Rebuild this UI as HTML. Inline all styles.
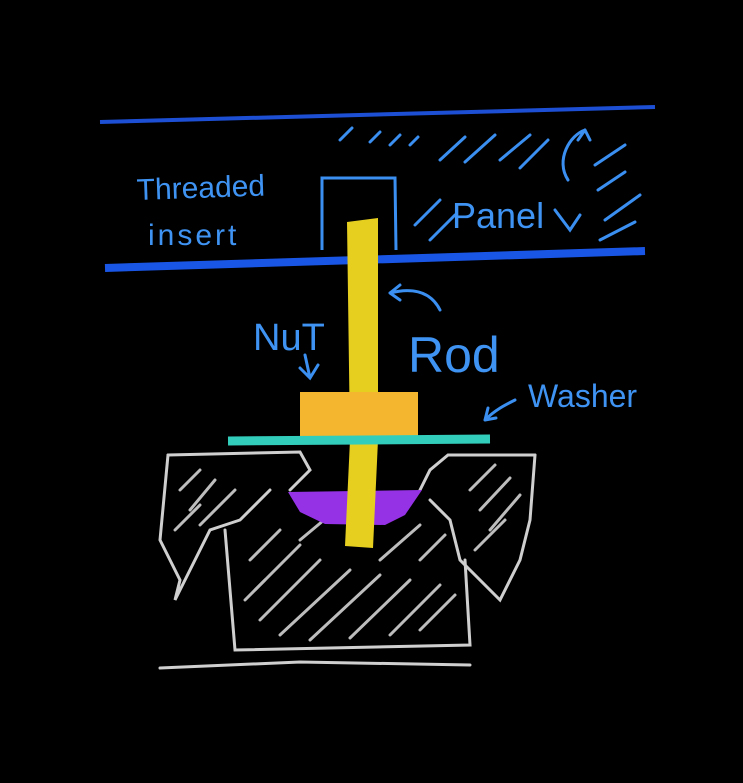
<!DOCTYPE html>
<html><head><meta charset="utf-8"><style>
html,body{margin:0;padding:0;background:#000;}
svg{display:block}
text{font-family:"Liberation Sans",sans-serif;fill:#3f93f2;}
</style></head><body>
<svg width="743" height="783" viewBox="0 0 743 783">
<rect width="743" height="783" fill="#000"/>
<!-- panel lines -->
<path d="M100 122 L655 107" stroke="#1d4fd4" stroke-width="4" fill="none"/>
<path d="M105 268 L645 251" stroke="#1a56e6" stroke-width="8" fill="none"/>
<!-- hatching -->
<g stroke="#3a8ff0" stroke-width="3" fill="none" stroke-linecap="round">
<path d="M340 140 L352 128"/><path d="M370 142 L380 132"/><path d="M390 145 L400 135"/><path d="M410 145 L418 137"/>
<path d="M440 160 L465 137"/><path d="M465 162 L495 135"/><path d="M500 160 L530 135"/><path d="M520 168 L548 140"/>
<path d="M595 165 L625 145"/><path d="M598 190 L625 172"/><path d="M605 220 L640 195"/><path d="M600 240 L635 222"/>
<path d="M415 225 L440 200"/><path d="M430 240 L455 215"/>
<path d="M568 180 C555 160 570 135 585 130 M585 130 L578 140 M585 130 L590 140"/>
<path d="M555 210 L570 230 L580 215"/>
</g>
<!-- insert -->
<path d="M322 250 L322 178 L395 178 L396 250" stroke="#3a8ff0" stroke-width="3" fill="none"/>
<text x="137" y="200" font-size="30" transform="rotate(-2 137 200)">Threaded</text>
<text x="148" y="245" font-size="30" letter-spacing="3">insert</text>
<text x="452" y="228" font-size="36">Panel</text>
<!-- gray base sketch -->
<g stroke="#cfcfcf" stroke-width="3" fill="none" stroke-linecap="round">
<path d="M168 455 L300 452 L310 470 L290 490 M420 490 L430 470 L448 455 L535 455"/>
<path d="M168 455 L160 540 L180 580 L175 600 L210 530 L240 520 L270 490"/>
<path d="M535 455 L530 520 L520 560 L500 600 L460 560 L450 520 L430 500"/>
<path d="M225 530 L235 650 L470 645 L465 560"/>
<path d="M160 668 L300 662 L470 665"/>
</g>
<g stroke="#bdbdbd" stroke-width="3" stroke-linecap="round">
<path d="M180 490 L200 470"/><path d="M190 510 L215 480"/><path d="M200 525 L235 490"/><path d="M175 530 L200 505"/>
<path d="M470 490 L495 465"/><path d="M480 510 L510 478"/><path d="M490 530 L520 495"/><path d="M475 550 L505 520"/>
<path d="M250 560 L280 530"/><path d="M255 590 L300 545"/><path d="M260 620 L320 560"/><path d="M280 635 L350 570"/>
<path d="M310 640 L380 575"/><path d="M350 638 L410 580"/><path d="M390 635 L440 585"/><path d="M420 630 L455 595"/>
<path d="M300 540 L330 515"/><path d="M380 560 L420 525"/><path d="M420 560 L445 535"/><path d="M245 600 L265 580"/>
</g>
<!-- purple -->
<path d="M288 492 L422 490 L405 515 L385 525 L325 524 L300 512 Z" fill="#9532e6"/>
<!-- rod -->
<path d="M347 222 L378 218 L378 440 L373 548 L345 546 L350 440 Z" fill="#e6cf1f"/>
<!-- nut -->
<rect x="300" y="392" width="118" height="48" fill="#f4b62e"/>
<!-- washer -->
<path d="M228 441 L490 439" stroke="#33cdbb" stroke-width="9"/>
<!-- labels & arrows -->
<text x="253" y="350" font-size="38">NuT</text>
<text x="408" y="372" font-size="50">Rod</text>
<text x="528" y="407" font-size="32">Washer</text>
<g stroke="#3a8ff0" stroke-width="3" fill="none" stroke-linecap="round">
<path d="M440 310 C430 290 410 288 390 293 M390 293 L400 285 M390 293 L400 300"/>
<path d="M305 355 L310 378 M300 368 L310 378 L318 365"/>
<path d="M515 400 C505 405 495 410 485 420 M485 420 L488 408 M485 420 L496 418"/>
</g>
</svg>
</body></html>
